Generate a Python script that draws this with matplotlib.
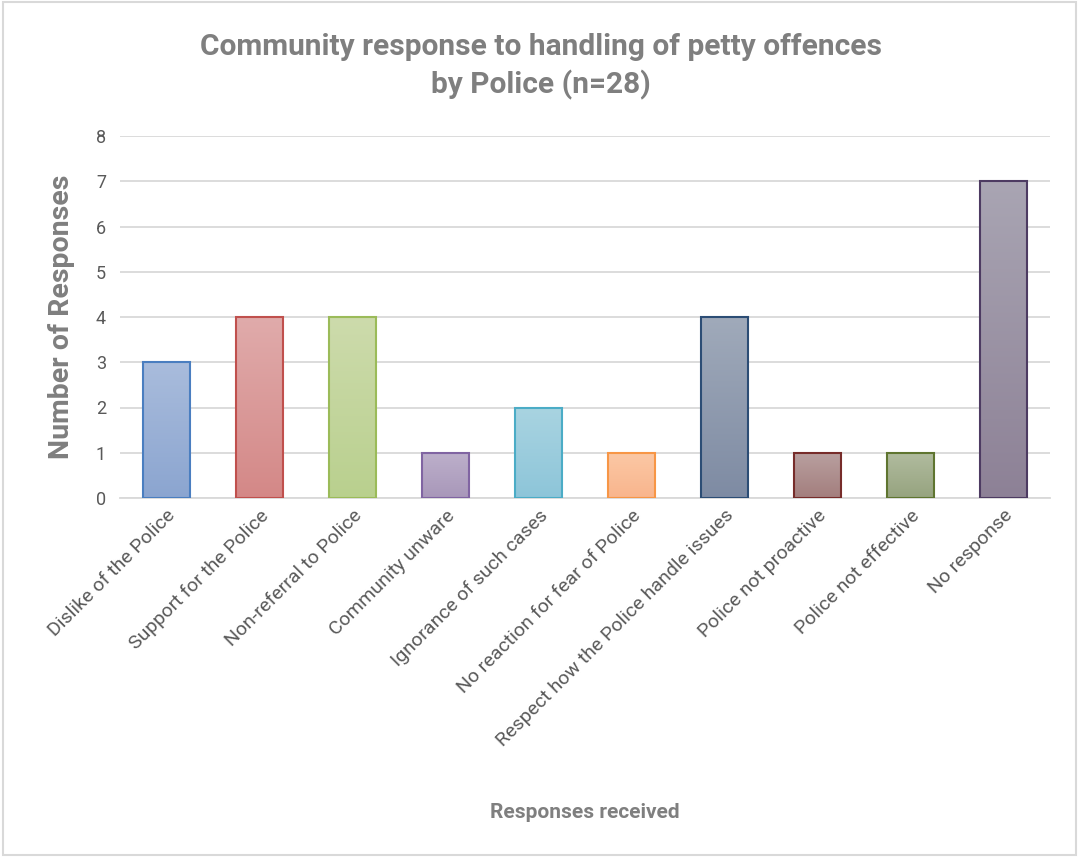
import matplotlib
matplotlib.use("Agg")
import matplotlib.pyplot as plt
import numpy as np
from matplotlib.colors import LinearSegmentedColormap
from matplotlib.patches import Rectangle

categories = ["Dislike of the Police", "Support for the Police", "Non-referral to Police",
              "Community unware", "Ignorance of such cases", "No reaction for fear of Police",
              "Respect how the Police handle issues", "Police not proactive",
              "Police not effective", "No response"]
values = [3, 4, 4, 1, 2, 1, 4, 1, 1, 7]
top_colors = ["#A9BCDC", "#E0ABAB", "#CDDBAC", "#BDB0CB", "#A9D4E1",
              "#FBC8A5", "#A0AABA", "#B9A0A0", "#B1BC9F", "#A9A5B3"]
bottom_colors = ["#8BA5D0", "#D48887", "#B9D08E", "#A897B9", "#8DC5D9",
                 "#F9B58D", "#7E8BA3", "#A37E7D", "#96A37F", "#8D8196"]
edge_colors = ["#4A7EC0", "#C0504D", "#9BBB59", "#8064A2", "#4BACC6",
               "#F79646", "#2C4D75", "#772C2A", "#5F7530", "#4D3B62"]

plt.rcParams['font.family'] = ['Roboto', 'DejaVu Sans']

fig = plt.figure(figsize=(10.79, 8.57), dpi=100)
ax = fig.add_axes([120/1079, 1-498/857, 930/1079, (498-136)/857])

x = np.arange(len(categories))
bars = ax.bar(x, values, width=0.5, color='none', edgecolor=edge_colors, linewidth=1.5, zorder=3)
grad = np.linspace(0, 1, 256).reshape(-1, 1)
for b, tc, bc in zip(bars, top_colors, bottom_colors):
    cmap = LinearSegmentedColormap.from_list("g", [bc, tc])
    x0, y0 = b.get_x(), b.get_y()
    w, h = b.get_width(), b.get_height()
    im = ax.imshow(grad, extent=[x0, x0 + w, y0, y0 + h], origin='lower',
                   cmap=cmap, aspect='auto', zorder=2)
    im.set_clip_path(b)

ax.set_xlim(-0.5, len(categories) - 0.5)
ax.set_ylim(0, 8)
ax.set_yticks(range(0, 9))
ax.grid(axis='y', color='#D9D9D9', linewidth=1.3, zorder=0)
ax.set_axisbelow(True)
for s in ['top', 'right', 'left']:
    ax.spines[s].set_visible(False)
ax.spines['bottom'].set_color('#D9D9D9')
ax.spines['bottom'].set_linewidth(1.3)
ax.tick_params(axis='both', length=0, colors='#595959', labelsize=13)
ax.tick_params(axis='y', pad=10)
ax.set_xticks(x)
ax.set_xticklabels(categories, rotation=45, ha='right', rotation_mode='anchor', fontsize=14)
ax.tick_params(axis='x', pad=6)
for lbl in ax.get_xticklabels():
    lbl.set_x(lbl.get_position()[0])

fig.text(62/1079, 1-317/857, "Number of Responses", rotation=90, ha='center', va='center',
         fontsize=20.5, fontweight='bold', color='#7F7F7F')
fig.text(541/1079, 1-47/857, "Community response to handling of petty offences", ha='center', va='center',
         fontsize=21.5, fontweight='bold', color='#7F7F7F')
fig.text(541/1079, 1-85/857, "by Police (n=28)", ha='center', va='center',
         fontsize=21.5, fontweight='bold', color='#7F7F7F')
fig.text(585/1079, 1-813/857, "Responses received", ha='center', va='center',
         fontsize=15, fontweight='bold', color='#7F7F7F')

fig.patches.append(Rectangle((3/1079, 2/857), 1-6/1079, 1-4/857, transform=fig.transFigure,
                             fill=False, edgecolor='#D9D9D9', linewidth=1.5))

fig.savefig("out.png", dpi=100)
